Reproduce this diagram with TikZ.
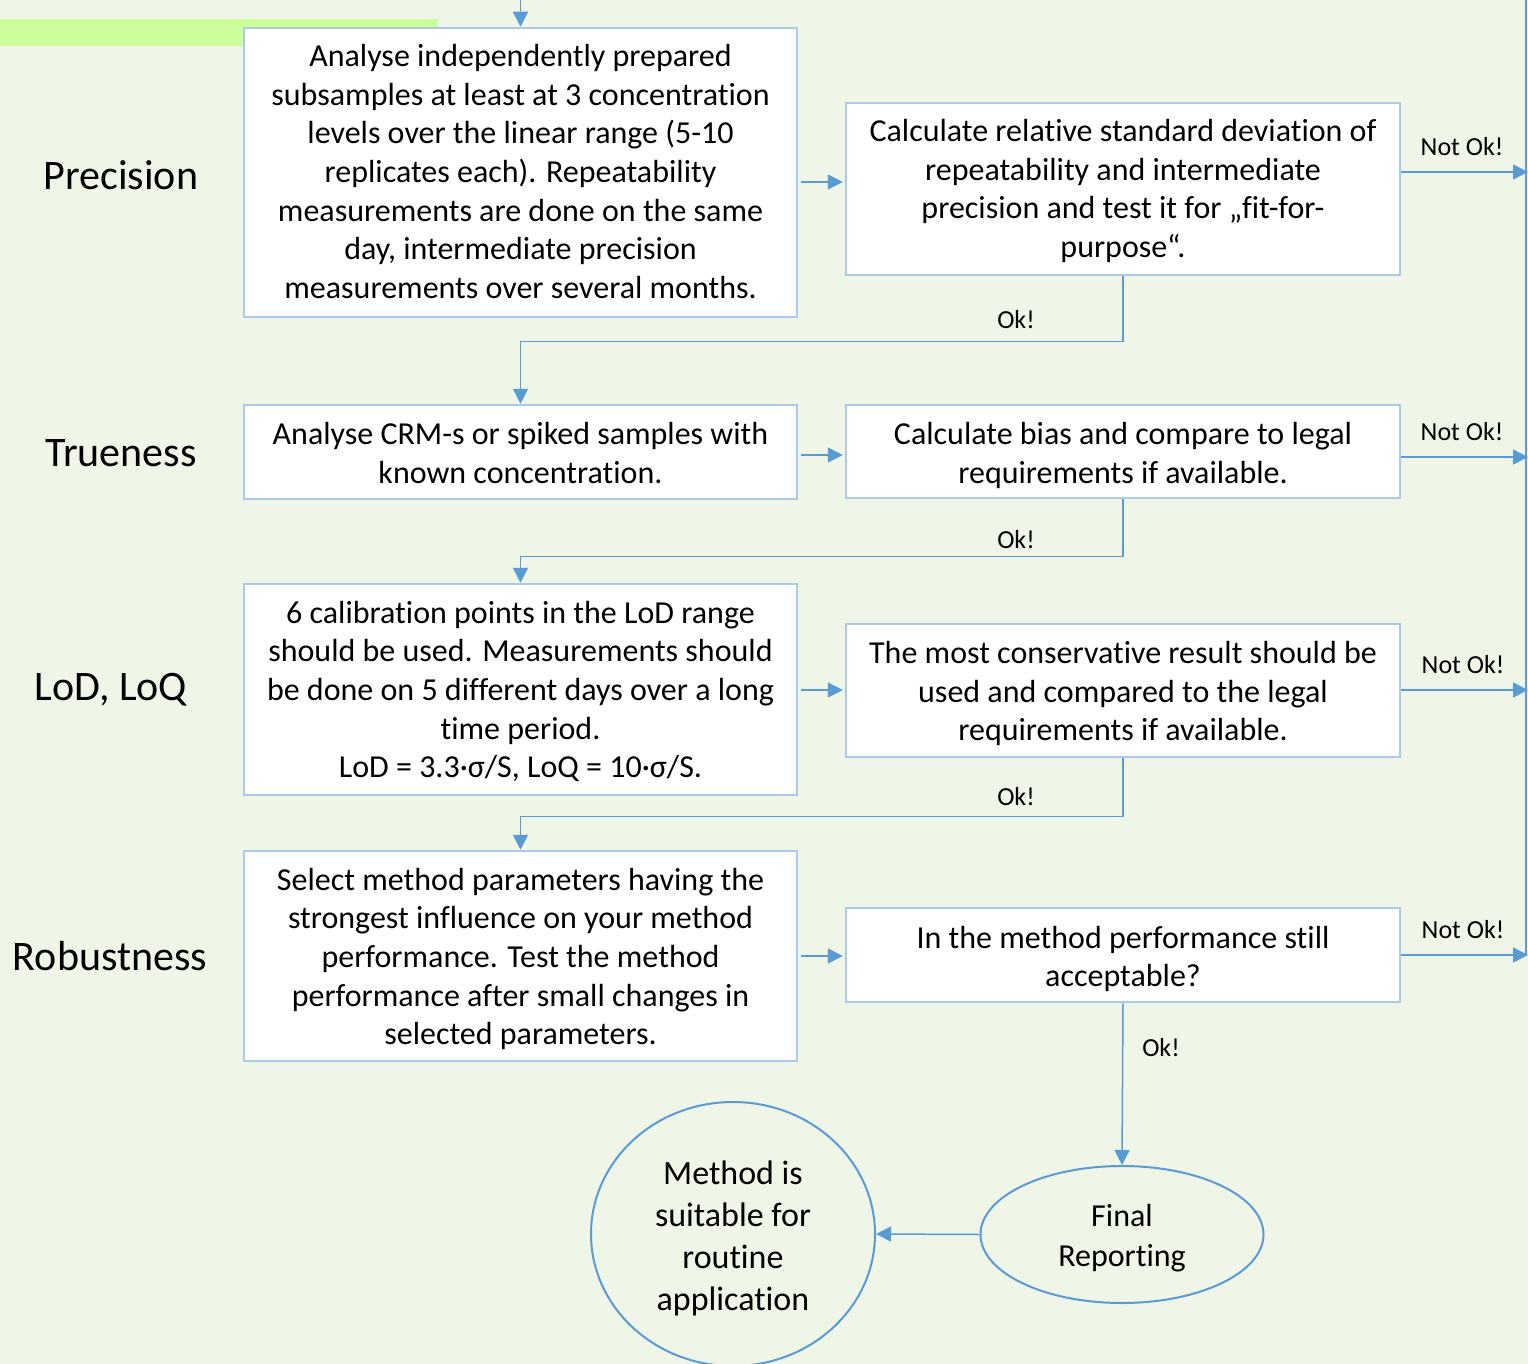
\documentclass[tikz,border=0pt]{standalone}
\usepackage{fontspec}
\setmainfont{Carlito}[RawFeature={-liga;-clig;-calt;-dlig}]
\usetikzlibrary{arrows.meta,shapes.geometric}
\definecolor{bgc}{HTML}{EFF6E8}
\definecolor{barc}{HTML}{CCFF99}
\definecolor{lnc}{HTML}{5B9BD5}
\definecolor{boxc}{HTML}{A9CAE8}
\begin{document}
\begin{tikzpicture}[x=1pt,y=-1pt,
  stepbox/.style={draw=boxc, line width=2.5pt, fill=white, minimum width=553pt, inner sep=0pt},
  boxtext/.style={align=center, font=\fontsize{32}{38.7}\selectfont, inner sep=0pt},
  conn/.style={draw=lnc, line width=1.5pt, -{Triangle[length=15pt,width=15pt]}},
  plain/.style={draw=lnc, line width=1.5pt},
  rowlbl/.style={font=\fontsize{42}{50}\selectfont},
  oklbl/.style={font=\fontsize{26}{30}\selectfont},
  endnode/.style={draw=lnc, line width=2pt, shape=ellipse, inner sep=0pt}]
\fill[bgc] (0,0) rectangle (1528,1364);
\useasboundingbox (0,0) rectangle (1528,1364);
\clip (0,0) rectangle (1528,1364);
\fill[barc] (0,19) rectangle (438,46);

% row labels
\node[rowlbl] (lp) at (121,175) {Precision};
\node[rowlbl] (lt) at (121,453) {Trueness};
\node[rowlbl] (ll) at (111,690) {LoD, LoQ};
\node[rowlbl] (lr) at (110,956) {Robustness};

% boxes
\node[stepbox, minimum height=289pt] (P1) at (520.5,172.5) {};
\node[stepbox, minimum width=554pt, minimum height=172pt] (P2) at (1123,189) {};
\node[stepbox, minimum height=94pt] (T1) at (520.5,452) {};
\node[stepbox, minimum width=554pt, minimum height=93pt] (T2) at (1123,451.5) {};
\node[stepbox, minimum height=211pt] (L1) at (520.5,689.5) {};
\node[stepbox, minimum width=554pt, minimum height=133pt] (L2) at (1123,690.5) {};
\node[stepbox, minimum height=210pt] (R1) at (520.5,956) {};
\node[stepbox, minimum width=554pt, minimum height=94pt] (R2) at (1123,955) {};

% box texts
\node[boxtext] (P1t) at ([yshift=1pt]P1.center) {Analyse independently prepared\\subsamples at least at 3 concentration\\levels over the linear range (5-10\\replicates each). Repeatability\\measurements are done on the same\\day, intermediate precision\\measurements over several months.};
\node[boxtext] (P2t) at ([yshift=-2pt]P2.center) {Calculate relative standard deviation of\\repeatability and intermediate\\precision and test it for „fit-for-\\purpose“.};
\node[boxtext] (T1t) at ([yshift=-1pt]T1.center) {Analyse CRM-s or spiked samples with\\known concentration.};
\node[boxtext] (T2t) at ([yshift=-4pt]T2.center) {Calculate bias and compare to legal\\requirements if available.};
\node[boxtext] (L1t) at ([yshift=-2pt]L1.center) {6 calibration points in the LoD range\\should be used. Measurements should\\be done on 5 different days over a long\\time period.\\LoD = 3.3·σ/S, LoQ = 10·σ/S.};
\node[boxtext] (L2t) at ([yshift=-3pt]L2.center) {The most conservative result should be\\used and compared to the legal\\requirements if available.};
\node[boxtext] (R1t) at ([yshift=-3pt]R1.center) {Select method parameters having the\\strongest influence on your method\\performance. Test the method\\performance after small changes in\\selected parameters.};
\node[boxtext] (R2t) at ([yshift=-4pt]R2.center) {In the method performance still\\acceptable?};

% end nodes
\node[endnode, minimum width=283pt, minimum height=137pt] (FR) at (1122,1234.5) {};
\node[boxtext, font=\fontsize{32}{40}\selectfont] (FRt) at ([yshift=-4pt]FR.center) {Final\\Reporting};
\node[endnode, minimum width=284pt, minimum height=264pt] (M) at (733,1234) {};
\node[boxtext, font=\fontsize{34}{42}\selectfont] (Mt) at ([yshift=-4pt]M.center) {Method is\\suitable for\\routine\\application};

% helper coordinates
\coordinate (top) at (520.5,0);
\coordinate (rt) at (1528,0);
\coordinate (y1) at (0,182);
\coordinate (y2) at (0,455);
\coordinate (y3) at (0,690);
\coordinate (y4) at (0,956);
\coordinate (n1) at (0,172);
\coordinate (n2) at (0,457);
\coordinate (n3) at (0,690);
\coordinate (n4) at (0,955);
\coordinate (vtop) at (1526,0);
\coordinate (vbot) at (1526,955);

% connectors
\draw[conn] (top) -- (P1.north);
\draw[conn, shorten <=3pt, shorten >=2pt] (P1.east |- y1) -- (P2.west |- y1);
\draw[conn, shorten <=3pt, shorten >=2pt] (T1.east |- y2) -- (T2.west |- y2);
\draw[conn, shorten <=3pt, shorten >=2pt] (L1.east |- y3) -- (L2.west |- y3);
\draw[conn, shorten <=3pt, shorten >=2pt] (R1.east |- y4) -- (R2.west |- y4);

\draw[conn] (P2.south) -- ++(0,65) -| (T1.north);
\draw[conn] (T2.south) -- ++(0,57) -| (L1.north);
\draw[conn] (L2.south) -- ++(0,58) -| (R1.north);
\draw[conn] (R2.south) -- (FR.north);
\draw[conn] (FR.west) -- (M.east);

\draw[plain] (vtop) -- (vbot);
\draw[conn] (P2.east |- n1) -- (rt |- n1);
\draw[conn] (T2.east |- n2) -- (rt |- n2);
\draw[conn] (L2.east |- n3) -- (rt |- n3);
\draw[conn] (R2.east |- n4) -- (rt |- n4);

% labels
\node[oklbl] (ok1) at (1016,320) {Ok!};
\node[oklbl] (ok2) at (1016,540) {Ok!};
\node[oklbl] (ok3) at (1016,797) {Ok!};
\node[oklbl] (ok4) at (1161,1048) {Ok!};
\node[oklbl] (no1) at (1462,147) {Not Ok!};
\node[oklbl] (no2) at (1462,432) {Not Ok!};
\node[oklbl] (no3) at (1463,665) {Not Ok!};
\node[oklbl] (no4) at (1463,930) {Not Ok!};
\end{tikzpicture}
\end{document}
